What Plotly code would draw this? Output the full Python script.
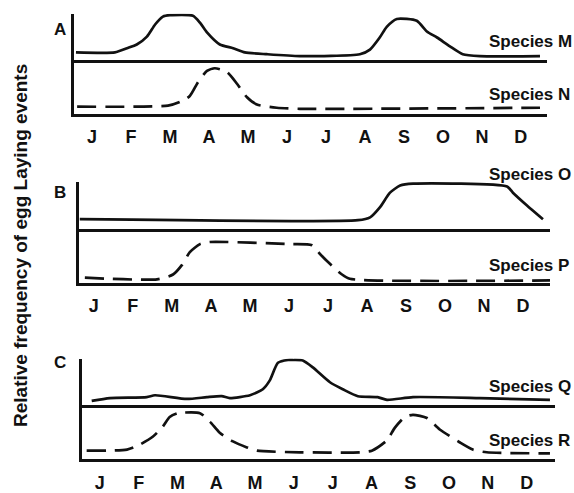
import plotly.graph_objects as go

W, H = 574, 493

months = ["J", "F", "M", "A", "M", "J", "J", "A", "S", "O", "N", "D"]

# x = month position (0 = January), y = relative frequency of egg laying (0-1)
species_m_x = [-0.41, 0.59, 0.90, 1.15, 1.41, 1.62, 1.82, 2.00, 2.59, 2.77, 2.95, 3.28, 3.62, 3.92,
               4.49, 5.33, 6.87, 7.13, 7.38, 7.56, 7.82, 8.33, 8.59, 8.85, 9.18, 9.51, 9.95, 11.49]
species_m_y = [0.17, 0.17, 0.26, 0.34, 0.51, 0.77, 0.94, 0.97, 0.96, 0.81, 0.60, 0.34, 0.26, 0.17,
               0.13, 0.09, 0.13, 0.23, 0.49, 0.72, 0.89, 0.85, 0.62, 0.49, 0.30, 0.13, 0.09, 0.09]

species_n_x = [-0.38, 1.95, 2.26, 2.51, 2.72, 2.95, 3.15, 3.46, 3.72, 3.97, 4.23, 4.74, 5.33, 11.49]
species_n_y = [0.13, 0.15, 0.22, 0.33, 0.59, 0.80, 0.85, 0.78, 0.56, 0.31, 0.17, 0.11, 0.09, 0.11]

species_o_x = [-0.36, 6.77, 7.08, 7.33, 7.59, 7.85, 8.18, 10.59, 10.74, 11.10, 11.51]
species_o_y = [0.21, 0.19, 0.25, 0.46, 0.77, 0.92, 0.96, 0.90, 0.77, 0.50, 0.21]

species_p_x = [-0.23, 1.62, 2.03, 2.26, 2.46, 2.72, 2.97, 5.03, 5.59, 5.79, 6.05, 6.36, 6.56, 11.69]
species_p_y = [0.09, 0.06, 0.15, 0.33, 0.57, 0.72, 0.76, 0.72, 0.70, 0.54, 0.35, 0.15, 0.07, 0.04]

species_q_x = [-0.21, 0.26, 1.21, 1.42, 2.24, 2.76, 3.14, 3.35, 3.87, 4.20, 4.38, 4.59, 4.85, 4.97,
               5.23, 5.49, 5.93, 6.26, 6.65, 7.16, 7.40, 8.07, 9.79, 11.60]
species_q_y = [0.09, 0.15, 0.17, 0.21, 0.13, 0.17, 0.19, 0.15, 0.21, 0.34, 0.53, 0.91, 0.97, 0.97,
               0.96, 0.81, 0.49, 0.34, 0.19, 0.17, 0.11, 0.17, 0.15, 0.11]

species_r_x = [-0.34, 0.70, 1.03, 1.37, 1.62, 1.80, 2.01, 2.58, 2.84, 3.09, 3.43, 3.79, 4.05, 5.15,
               6.70, 7.01, 7.40, 7.60, 7.86, 8.07, 8.43, 8.76, 9.28, 9.61, 9.97, 11.60]
species_r_y = [0.16, 0.18, 0.27, 0.42, 0.60, 0.78, 0.85, 0.85, 0.69, 0.49, 0.33, 0.22, 0.16, 0.13,
               0.13, 0.16, 0.35, 0.58, 0.78, 0.82, 0.76, 0.55, 0.31, 0.18, 0.13, 0.11]

# panel layout in pixels: x extent, top strip, bottom strip, x range, label positions
panels = [
    dict(letter="A", x=(74, 547), top=(14, 61), bot=(61, 115), xr=(-0.46, 11.67), ly=30,
         upper=("Species M", species_m_x, species_m_y, 42), lower=("Species N", species_n_x, species_n_y, 96)),
    dict(letter="B", x=(79, 550), top=(184, 232), bot=(232, 286), xr=(-0.38, 11.69), ly=195,
         upper=("Species O", species_o_x, species_o_y, 177), lower=("Species P", species_p_x, species_p_y, 269)),
    dict(letter="C", x=(82, 555), top=(363, 410), bot=(410, 465), xr=(-0.46, 11.73), ly=367,
         upper=("Species Q", species_q_x, species_q_y, 391), lower=("Species R", species_r_x, species_r_y, 446)),
]

INK = "#111111"
FONT = "Liberation Sans, Arial, sans-serif"


def px(x):
    return x / W


def py(y):
    return 1 - y / H


fig = go.Figure()
layout = {}
annotations = []

for i, p in enumerate(panels):
    x_dom = [px(p["x"][0]), px(p["x"][1])]
    for j, (strip, series, dash) in enumerate([(p["top"], p["upper"], "solid"),
                                                (p["bot"], p["lower"], "19px,9px")]):
        n = i * 2 + j + 1
        sfx = "" if n == 1 else str(n)
        name, xs, ys, label_y = series
        fig.add_trace(go.Scatter(
            x=xs, y=ys, mode="lines", xaxis="x" + sfx, yaxis="y" + sfx,
            line=dict(color=INK, width=2.7, dash=dash, shape="spline", smoothing=0.6),
            showlegend=False, hoverinfo="skip",
        ))
        bottom = j == 1
        layout["xaxis" + sfx] = dict(
            domain=x_dom, range=list(p["xr"]), anchor="y" + sfx,
            showline=True, linecolor=INK, linewidth=2.7, showgrid=False, zeroline=False,
            tickmode="array", tickvals=list(range(12)), ticktext=months,
            showticklabels=bottom, ticks="", ticklabelstandoff=5,
            tickfont=dict(family=FONT, size=18, color=INK, weight="bold"),
        )
        layout["yaxis" + sfx] = dict(
            domain=[py(strip[1]), py(strip[0])], range=[0, 1], anchor="x" + sfx,
            showline=True, linecolor=INK, linewidth=2.7, showgrid=False, zeroline=False,
            showticklabels=False, ticks="",
        )
        annotations.append(dict(
            text=name, xref="paper", yref="paper", x=px(487), y=py(label_y),
            xanchor="left", yanchor="middle", showarrow=False,
            font=dict(family=FONT, size=17, color=INK, weight="bold"),
        ))
    annotations.append(dict(
        text=p["letter"], xref="paper", yref="paper", x=px(60), y=py(p["ly"]),
        xanchor="center", yanchor="middle", showarrow=False,
        font=dict(family=FONT, size=17, color=INK, weight="bold"),
    ))

annotations.append(dict(
    text="Relative frequency of egg Laying events", xref="paper", yref="paper",
    x=px(21), y=py(249), xanchor="center", yanchor="middle", textangle=-90,
    showarrow=False, font=dict(family=FONT, size=19, color=INK, weight="bold"),
))

fig.update_layout(
    width=W, height=H, margin=dict(l=0, r=0, t=0, b=0),
    paper_bgcolor="white", plot_bgcolor="white",
    annotations=annotations, **layout,
)

# drop the default page margin so the figure fills the window exactly
fig.write_html(
    "out.html",
    config={"displayModeBar": False},
    post_script="document.body.style.margin = '0';",
)
